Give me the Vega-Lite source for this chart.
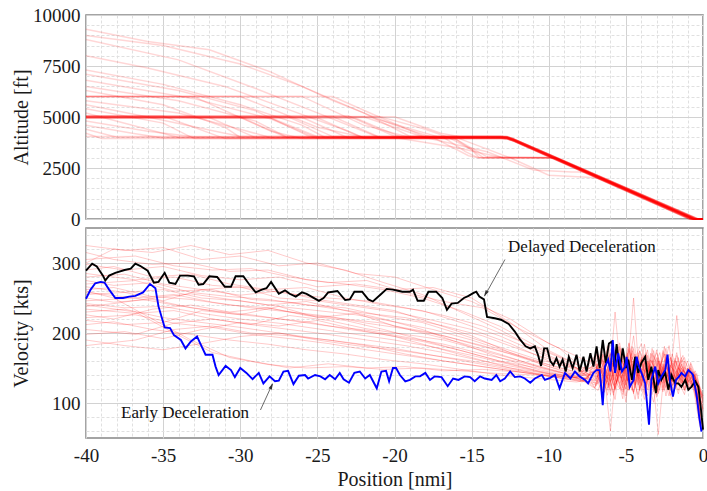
{
"$schema": "https://vega.github.io/schema/vega-lite/v6.json",
"padding": {"left": 10, "top": 5, "right": 4, "bottom": 2},
"spacing": 9,
"bounds": "flush",
"config": {
  "font": "Times New Roman",
  "view": {"stroke": "#868686", "strokeWidth": 1.5},
  "axis": {"labelFont": "Times New Roman", "titleFont": "Times New Roman", "labelFontSize": 19, "titleFontSize": 20, "titleFontWeight": "normal", "labelColor": "#1a1a1a", "titleColor": "#1a1a1a", "ticks": false, "domain": false, "labelOverlap": false, "gridWidth": 1},
  "axisY": {"labelPadding": 6, "titlePadding": 1, "minExtent": 54, "maxExtent": 54},
  "axisX": {"labelPadding": 8, "titlePadding": 4, "labelFlush": false}
},
"datasets": {
"alt": [
{"t":1,"x":-40,"a":5000},{"t":1,"x":-30,"a":5000},{"t":1,"x":-27,"a":4000},{"t":1,"x":-13.1,"a":4000},{"t":1,"x":-12.7,"a":3980},{"t":1,"x":-12.3,"a":3880},{"t":1,"x":-0.6,"a":0},{"t":1,"x":0,"a":0},
{"t":2,"x":-40,"a":5040},{"t":2,"x":-27,"a":5040},{"t":2,"x":-24,"a":4040},{"t":2,"x":-13.1,"a":4040},{"t":2,"x":-12.7,"a":4020},{"t":2,"x":-12.3,"a":3920},{"t":2,"x":-0.4,"a":0},{"t":2,"x":0,"a":0},
{"t":3,"x":-40,"a":4960},{"t":3,"x":-25,"a":4960},{"t":3,"x":-22,"a":3960},{"t":3,"x":-13.1,"a":3960},{"t":3,"x":-12.7,"a":3940},{"t":3,"x":-12.3,"a":3840},{"t":3,"x":-0.8,"a":0},{"t":3,"x":0,"a":0},
{"t":4,"x":-40,"a":5020},{"t":4,"x":-24,"a":5020},{"t":4,"x":-21,"a":4020},{"t":4,"x":-13.1,"a":4020},{"t":4,"x":-12.7,"a":4000},{"t":4,"x":-12.3,"a":3900},{"t":4,"x":-0.5,"a":0},{"t":4,"x":0,"a":0},
{"t":5,"x":-40,"a":5060},{"t":5,"x":-23,"a":5060},{"t":5,"x":-20,"a":4060},{"t":5,"x":-13.1,"a":4060},{"t":5,"x":-12.7,"a":4040},{"t":5,"x":-12.3,"a":3940},{"t":5,"x":-0.3,"a":0},{"t":5,"x":0,"a":0},
{"t":6,"x":-40,"a":4940},{"t":6,"x":-22.5,"a":4940},{"t":6,"x":-19.5,"a":3990},{"t":6,"x":-16.8,"a":3990},{"t":6,"x":-15.4,"a":3300},{"t":6,"x":-14.6,"a":3010},{"t":6,"x":-9.6,"a":3010},{"t":6,"x":-0.6,"a":0},{"t":6,"x":0,"a":0},
{"t":7,"x":-40,"a":5010},{"t":7,"x":-22,"a":5010},{"t":7,"x":-18,"a":3980},{"t":7,"x":-13.1,"a":3980},{"t":7,"x":-12.7,"a":3960},{"t":7,"x":-12.3,"a":3860},{"t":7,"x":-0.7,"a":0},{"t":7,"x":0,"a":0},
{"t":8,"x":-40,"a":4980},{"t":8,"x":-21.5,"a":4980},{"t":8,"x":-17,"a":3990},{"t":8,"x":-16.2,"a":3990},{"t":8,"x":-14.8,"a":3300},{"t":8,"x":-14.2,"a":2990},{"t":8,"x":-9.7,"a":2990},{"t":8,"x":-0.7,"a":0},{"t":8,"x":0,"a":0},
{"t":9,"x":-40,"a":5050},{"t":9,"x":-35,"a":5050},{"t":9,"x":-31,"a":3940},{"t":9,"x":-13.1,"a":3940},{"t":9,"x":-12.7,"a":3920},{"t":9,"x":-12.3,"a":3820},{"t":9,"x":-0.9,"a":0},{"t":9,"x":0,"a":0},
{"t":10,"x":-40,"a":4950},{"t":10,"x":-28,"a":4950},{"t":10,"x":-25,"a":4030},{"t":10,"x":-13.1,"a":4030},{"t":10,"x":-12.7,"a":4010},{"t":10,"x":-12.3,"a":3910},{"t":10,"x":-0.45,"a":0},{"t":10,"x":0,"a":0},
{"t":11,"x":-40,"a":4990},{"t":11,"x":-26,"a":4990},{"t":11,"x":-23,"a":3970},{"t":11,"x":-13.1,"a":3970},{"t":11,"x":-12.7,"a":3950},{"t":11,"x":-12.3,"a":3850},{"t":11,"x":-0.75,"a":0},{"t":11,"x":0,"a":0},
{"t":12,"x":-40,"a":5030},{"t":12,"x":-21,"a":5030},{"t":12,"x":-18,"a":4400},{"t":12,"x":-16.5,"a":4000},{"t":12,"x":-15,"a":3400},{"t":12,"x":-14.5,"a":3000},{"t":12,"x":-9.6,"a":3000},{"t":12,"x":-0.5,"a":0},{"t":12,"x":0,"a":0},
{"t":13,"x":-40,"a":6000},{"t":13,"x":-30,"a":6000},{"t":13,"x":-25,"a":4500},{"t":13,"x":-22,"a":4010},{"t":13,"x":-13.1,"a":4010},{"t":13,"x":-12.7,"a":3990},{"t":13,"x":-12.3,"a":3890},{"t":13,"x":-0.55,"a":0},{"t":13,"x":0,"a":0},
{"t":14,"x":-40,"a":6010},{"t":14,"x":-26,"a":6010},{"t":14,"x":-22,"a":4600},{"t":14,"x":-19,"a":4000},{"t":14,"x":-17.5,"a":4000},{"t":14,"x":-15.2,"a":3100},{"t":14,"x":-14.6,"a":3000},{"t":14,"x":-9.6,"a":3000},{"t":14,"x":-0.6,"a":0},{"t":14,"x":0,"a":0},
{"t":15,"x":-40,"a":5990},{"t":15,"x":-33,"a":5990},{"t":15,"x":-28,"a":4300},{"t":15,"x":-26,"a":3950},{"t":15,"x":-13.1,"a":3950},{"t":15,"x":-12.7,"a":3930},{"t":15,"x":-12.3,"a":3830},{"t":15,"x":-0.85,"a":0},{"t":15,"x":0,"a":0},
{"t":16,"x":-40,"a":9300},{"t":16,"x":-36,"a":8700},{"t":16,"x":-32,"a":8300},{"t":16,"x":-28,"a":7200},{"t":16,"x":-24,"a":5800},{"t":16,"x":-20,"a":4600},{"t":16,"x":-17.5,"a":4000},{"t":16,"x":-16,"a":3900},{"t":16,"x":-14,"a":3050},{"t":16,"x":-9.6,"a":3000},{"t":16,"x":-0.6,"a":0},{"t":16,"x":0,"a":0},
{"t":17,"x":-40,"a":9000},{"t":17,"x":-35,"a":8500},{"t":17,"x":-30,"a":7600},{"t":17,"x":-26,"a":6500},{"t":17,"x":-22,"a":5200},{"t":17,"x":-19,"a":4050},{"t":17,"x":-13.1,"a":4050},{"t":17,"x":-12.7,"a":4030},{"t":17,"x":-12.3,"a":3930},{"t":17,"x":-0.35,"a":0},{"t":17,"x":0,"a":0},
{"t":18,"x":-40,"a":8800},{"t":18,"x":-34,"a":7800},{"t":18,"x":-29,"a":6400},{"t":18,"x":-25,"a":5200},{"t":18,"x":-21,"a":4000},{"t":18,"x":-16,"a":4000},{"t":18,"x":-12.5,"a":3000},{"t":18,"x":-10,"a":2150},{"t":18,"x":-7.5,"a":2050},{"t":18,"x":-6.8,"a":2000},{"t":18,"x":-0.6,"a":0},{"t":18,"x":0,"a":0},
{"t":19,"x":-40,"a":8000},{"t":19,"x":-36,"a":7400},{"t":19,"x":-31,"a":6500},{"t":19,"x":-27,"a":5400},{"t":19,"x":-23,"a":4300},{"t":19,"x":-22,"a":3990},{"t":19,"x":-13.1,"a":3990},{"t":19,"x":-12.7,"a":3970},{"t":19,"x":-12.3,"a":3870},{"t":19,"x":-0.65,"a":0},{"t":19,"x":0,"a":0},
{"t":20,"x":-40,"a":7300},{"t":20,"x":-35,"a":6600},{"t":20,"x":-30,"a":5600},{"t":20,"x":-26,"a":4600},{"t":20,"x":-24.5,"a":4000},{"t":20,"x":-13.1,"a":4000},{"t":20,"x":-12.7,"a":3980},{"t":20,"x":-12.3,"a":3880},{"t":20,"x":-0.6,"a":0},{"t":20,"x":0,"a":0},
{"t":21,"x":-40,"a":7100},{"t":21,"x":-34,"a":6300},{"t":21,"x":-29,"a":5300},{"t":21,"x":-25.5,"a":4040},{"t":21,"x":-13.1,"a":4040},{"t":21,"x":-12.7,"a":4020},{"t":21,"x":-12.3,"a":3920},{"t":21,"x":-0.4,"a":0},{"t":21,"x":0,"a":0},
{"t":22,"x":-40,"a":6800},{"t":22,"x":-33,"a":5900},{"t":22,"x":-28,"a":4900},{"t":22,"x":-25,"a":3960},{"t":22,"x":-13.1,"a":3960},{"t":22,"x":-12.7,"a":3940},{"t":22,"x":-12.3,"a":3840},{"t":22,"x":-0.8,"a":0},{"t":22,"x":0,"a":0},
{"t":23,"x":-40,"a":6500},{"t":23,"x":-34,"a":5800},{"t":23,"x":-29,"a":4800},{"t":23,"x":-27,"a":4020},{"t":23,"x":-13.1,"a":4020},{"t":23,"x":-12.7,"a":4000},{"t":23,"x":-12.3,"a":3900},{"t":23,"x":-0.5,"a":0},{"t":23,"x":0,"a":0},
{"t":24,"x":-40,"a":6300},{"t":24,"x":-35,"a":5600},{"t":24,"x":-31,"a":4500},{"t":24,"x":-30,"a":4000},{"t":24,"x":-20,"a":4000},{"t":24,"x":-16,"a":3500},{"t":24,"x":-13,"a":3000},{"t":24,"x":-9.6,"a":3000},{"t":24,"x":-0.6,"a":0},{"t":24,"x":0,"a":0},
{"t":25,"x":-40,"a":5800},{"t":25,"x":-34,"a":5200},{"t":25,"x":-30,"a":4400},{"t":25,"x":-28,"a":3980},{"t":25,"x":-13.1,"a":3980},{"t":25,"x":-12.7,"a":3960},{"t":25,"x":-12.3,"a":3860},{"t":25,"x":-0.7,"a":0},{"t":25,"x":0,"a":0},
{"t":26,"x":-40,"a":5600},{"t":26,"x":-36,"a":5000},{"t":26,"x":-31,"a":4200},{"t":26,"x":-30,"a":4060},{"t":26,"x":-13.1,"a":4060},{"t":26,"x":-12.7,"a":4040},{"t":26,"x":-12.3,"a":3940},{"t":26,"x":-0.3,"a":0},{"t":26,"x":0,"a":0},
{"t":27,"x":-40,"a":5400},{"t":27,"x":-35,"a":4700},{"t":27,"x":-33,"a":3940},{"t":27,"x":-13.1,"a":3940},{"t":27,"x":-12.7,"a":3920},{"t":27,"x":-12.3,"a":3820},{"t":27,"x":-0.9,"a":0},{"t":27,"x":0,"a":0},
{"t":28,"x":-40,"a":5200},{"t":28,"x":-37,"a":4600},{"t":28,"x":-34,"a":4000},{"t":28,"x":-18,"a":4000},{"t":28,"x":-14,"a":3300},{"t":28,"x":-11,"a":2400},{"t":28,"x":-8.5,"a":2300},{"t":28,"x":-7.6,"a":2300},{"t":28,"x":-0.6,"a":0},{"t":28,"x":0,"a":0},
{"t":29,"x":-40,"a":4800},{"t":29,"x":-36,"a":4300},{"t":29,"x":-33,"a":4030},{"t":29,"x":-13.1,"a":4030},{"t":29,"x":-12.7,"a":4010},{"t":29,"x":-12.3,"a":3910},{"t":29,"x":-0.45,"a":0},{"t":29,"x":0,"a":0},
{"t":30,"x":-40,"a":4600},{"t":30,"x":-37,"a":4200},{"t":30,"x":-35,"a":3970},{"t":30,"x":-13.1,"a":3970},{"t":30,"x":-12.7,"a":3950},{"t":30,"x":-12.3,"a":3850},{"t":30,"x":-0.75,"a":0},{"t":30,"x":0,"a":0},
{"t":31,"x":-40,"a":4400},{"t":31,"x":-38,"a":4010},{"t":31,"x":-13.1,"a":4010},{"t":31,"x":-12.7,"a":3990},{"t":31,"x":-12.3,"a":3890},{"t":31,"x":-0.55,"a":0},{"t":31,"x":0,"a":0},
{"t":32,"x":-40,"a":4200},{"t":32,"x":-39,"a":3950},{"t":32,"x":-13.1,"a":3950},{"t":32,"x":-12.7,"a":3930},{"t":32,"x":-12.3,"a":3830},{"t":32,"x":-0.85,"a":0},{"t":32,"x":0,"a":0},
{"t":33,"x":-40,"a":4050},{"t":33,"x":-13.1,"a":4050},{"t":33,"x":-12.7,"a":4030},{"t":33,"x":-12.3,"a":3930},{"t":33,"x":-0.35,"a":0},{"t":33,"x":0,"a":0},
{"t":34,"x":-40,"a":4970},{"t":34,"x":-32,"a":4970},{"t":34,"x":-29,"a":3990},{"t":34,"x":-13.1,"a":3990},{"t":34,"x":-12.7,"a":3970},{"t":34,"x":-12.3,"a":3870},{"t":34,"x":-0.65,"a":0},{"t":34,"x":0,"a":0},
{"t":35,"x":-40,"a":5010},{"t":35,"x":-20,"a":5010},{"t":35,"x":-17,"a":4200},{"t":35,"x":-15.5,"a":4000},{"t":35,"x":-13.1,"a":4000},{"t":35,"x":-12.7,"a":3980},{"t":35,"x":-12.3,"a":3880},{"t":35,"x":-0.6,"a":0},{"t":35,"x":0,"a":0},
{"t":36,"x":-40,"a":6020},{"t":36,"x":-24,"a":6000},{"t":36,"x":-21,"a":5000},{"t":36,"x":-18,"a":4020},{"t":36,"x":-13.1,"a":4020},{"t":36,"x":-12.7,"a":4000},{"t":36,"x":-12.3,"a":3900},{"t":36,"x":-0.5,"a":0},{"t":36,"x":0,"a":0}
],
"vel": [
{"t":1,"x":-40,"v":325},{"t":1,"x":-37.5,"v":318},{"t":1,"x":-35,"v":322},{"t":1,"x":-32.5,"v":305},{"t":1,"x":-30,"v":310},{"t":1,"x":-27.5,"v":296},{"t":1,"x":-25,"v":300},{"t":1,"x":-22.5,"v":285},{"t":1,"x":-20,"v":280},{"t":1,"x":-17.5,"v":262},{"t":1,"x":-15,"v":245},{"t":1,"x":-12.5,"v":220},{"t":1,"x":-10,"v":185},{"t":1,"x":-7.5,"v":160},
{"t":1,"x":-7,"v":160},{"t":1,"x":-6.6,"v":122},{"t":1,"x":-6.2,"v":176},{"t":1,"x":-5.8,"v":133},{"t":1,"x":-5.4,"v":181},{"t":1,"x":-5,"v":119},{"t":1,"x":-4.6,"v":166},{"t":1,"x":-4.2,"v":141},{"t":1,"x":-3.8,"v":112},{"t":1,"x":-3.4,"v":171},{"t":1,"x":-3,"v":136},{"t":1,"x":-2.6,"v":152},{"t":1,"x":-2.2,"v":118},{"t":1,"x":-1.8,"v":161},{"t":1,"x":-1.4,"v":142},{"t":1,"x":-1,"v":126},{"t":1,"x":-0.6,"v":134},{"t":1,"x":-0.2,"v":96},
{"t":2,"x":-40,"v":315},{"t":2,"x":-38.2,"v":305},{"t":2,"x":-35.7,"v":298},{"t":2,"x":-33.2,"v":300},{"t":2,"x":-30.7,"v":288},{"t":2,"x":-28.2,"v":290},{"t":2,"x":-25.7,"v":276},{"t":2,"x":-23.2,"v":270},{"t":2,"x":-20.7,"v":262},{"t":2,"x":-18.2,"v":250},{"t":2,"x":-15.7,"v":232},{"t":2,"x":-13.2,"v":210},{"t":2,"x":-10.7,"v":180},{"t":2,"x":-8.2,"v":155},
{"t":2,"x":-6.9,"v":131},{"t":2,"x":-6.5,"v":168},{"t":2,"x":-6.1,"v":126},{"t":2,"x":-5.7,"v":230},{"t":2,"x":-5.3,"v":136},{"t":2,"x":-4.9,"v":158},{"t":2,"x":-4.5,"v":113},{"t":2,"x":-4.1,"v":174},{"t":2,"x":-3.7,"v":151},{"t":2,"x":-3.3,"v":121},{"t":2,"x":-2.9,"v":161},{"t":2,"x":-2.5,"v":129},{"t":2,"x":-2.1,"v":154},{"t":2,"x":-1.7,"v":131},{"t":2,"x":-1.3,"v":147},{"t":2,"x":-0.9,"v":137},{"t":2,"x":-0.5,"v":121},{"t":2,"x":-0.1,"v":82},
{"t":3,"x":-40,"v":305},{"t":3,"x":-36.8,"v":310},{"t":3,"x":-34.3,"v":296},{"t":3,"x":-31.8,"v":290},{"t":3,"x":-29.3,"v":292},{"t":3,"x":-26.8,"v":280},{"t":3,"x":-24.3,"v":272},{"t":3,"x":-21.8,"v":275},{"t":3,"x":-19.3,"v":258},{"t":3,"x":-16.8,"v":245},{"t":3,"x":-14.3,"v":236},{"t":3,"x":-11.8,"v":205},{"t":3,"x":-9.3,"v":178},{"t":3,"x":-7.8,"v":150},
{"t":3,"x":-6.8,"v":150},{"t":3,"x":-6.4,"v":116},{"t":3,"x":-6,"v":164},{"t":3,"x":-5.6,"v":141},{"t":3,"x":-5.2,"v":106},{"t":3,"x":-4.8,"v":178},{"t":3,"x":-4.4,"v":131},{"t":3,"x":-4,"v":166},{"t":3,"x":-3.6,"v":119},{"t":3,"x":-3.2,"v":150},{"t":3,"x":-2.8,"v":126},{"t":3,"x":-2.4,"v":170},{"t":3,"x":-2,"v":141},{"t":3,"x":-1.6,"v":113},{"t":3,"x":-1.2,"v":151},{"t":3,"x":-0.8,"v":143},{"t":3,"x":-0.4,"v":128},{"t":3,"x":0,"v":110},
{"t":4,"x":-40,"v":298},{"t":4,"x":-37.5,"v":290},{"t":4,"x":-35,"v":295},{"t":4,"x":-32.5,"v":282},{"t":4,"x":-30,"v":276},{"t":4,"x":-27.5,"v":280},{"t":4,"x":-25,"v":266},{"t":4,"x":-22.5,"v":270},{"t":4,"x":-20,"v":262},{"t":4,"x":-17.5,"v":265},{"t":4,"x":-15,"v":250},{"t":4,"x":-12.5,"v":215},{"t":4,"x":-10,"v":175},{"t":4,"x":-7.5,"v":148},
{"t":4,"x":-7,"v":141},{"t":4,"x":-6.6,"v":174},{"t":4,"x":-6.2,"v":121},{"t":4,"x":-5.8,"v":160},{"t":4,"x":-5.4,"v":151},{"t":4,"x":-5,"v":101},{"t":4,"x":-4.6,"v":171},{"t":4,"x":-4.2,"v":126},{"t":4,"x":-3.8,"v":184},{"t":4,"x":-3.4,"v":136},{"t":4,"x":-3,"v":111},{"t":4,"x":-2.6,"v":156},{"t":4,"x":-2.2,"v":131},{"t":4,"x":-1.8,"v":164},{"t":4,"x":-1.4,"v":121},{"t":4,"x":-1,"v":150},{"t":4,"x":-0.6,"v":131},{"t":4,"x":-0.2,"v":72},
{"t":5,"x":-40,"v":290},{"t":5,"x":-38.2,"v":295},{"t":5,"x":-35.7,"v":280},{"t":5,"x":-33.2,"v":284},{"t":5,"x":-30.7,"v":270},{"t":5,"x":-28.2,"v":262},{"t":5,"x":-25.7,"v":265},{"t":5,"x":-23.2,"v":250},{"t":5,"x":-20.7,"v":240},{"t":5,"x":-18.2,"v":232},{"t":5,"x":-15.7,"v":215},{"t":5,"x":-13.2,"v":196},{"t":5,"x":-10.7,"v":172},{"t":5,"x":-8.2,"v":150},
{"t":5,"x":-6.9,"v":126},{"t":5,"x":-6.5,"v":156},{"t":5,"x":-6.1,"v":181},{"t":5,"x":-5.7,"v":119},{"t":5,"x":-5.3,"v":163},{"t":5,"x":-4.9,"v":141},{"t":5,"x":-4.5,"v":196},{"t":5,"x":-4.1,"v":121},{"t":5,"x":-3.7,"v":146},{"t":5,"x":-3.3,"v":171},{"t":5,"x":-2.9,"v":113},{"t":5,"x":-2.5,"v":151},{"t":5,"x":-2.1,"v":165},{"t":5,"x":-1.7,"v":126},{"t":5,"x":-1.3,"v":146},{"t":5,"x":-0.9,"v":131},{"t":5,"x":-0.5,"v":119},{"t":5,"x":-0.1,"v":101},
{"t":6,"x":-40,"v":285},{"t":6,"x":-36.8,"v":276},{"t":6,"x":-34.3,"v":280},{"t":6,"x":-31.8,"v":268},{"t":6,"x":-29.3,"v":264},{"t":6,"x":-26.8,"v":256},{"t":6,"x":-24.3,"v":250},{"t":6,"x":-21.8,"v":246},{"t":6,"x":-19.3,"v":236},{"t":6,"x":-16.8,"v":225},{"t":6,"x":-14.3,"v":210},{"t":6,"x":-11.8,"v":188},{"t":6,"x":-9.3,"v":165},{"t":6,"x":-7.8,"v":145},
{"t":6,"x":-6.8,"v":166},{"t":6,"x":-6.4,"v":131},{"t":6,"x":-6,"v":146},{"t":6,"x":-5.6,"v":176},{"t":6,"x":-5.2,"v":116},{"t":6,"x":-4.8,"v":151},{"t":6,"x":-4.4,"v":126},{"t":6,"x":-4,"v":161},{"t":6,"x":-3.6,"v":131},{"t":6,"x":-3.2,"v":101},{"t":6,"x":-2.8,"v":156},{"t":6,"x":-2.4,"v":141},{"t":6,"x":-2,"v":121},{"t":6,"x":-1.6,"v":151},{"t":6,"x":-1.2,"v":136},{"t":6,"x":-0.8,"v":146},{"t":6,"x":-0.4,"v":126},{"t":6,"x":0,"v":91},
{"t":7,"x":-40,"v":280},{"t":7,"x":-37.5,"v":284},{"t":7,"x":-35,"v":270},{"t":7,"x":-32.5,"v":262},{"t":7,"x":-30,"v":266},{"t":7,"x":-27.5,"v":250},{"t":7,"x":-25,"v":246},{"t":7,"x":-22.5,"v":238},{"t":7,"x":-20,"v":230},{"t":7,"x":-17.5,"v":218},{"t":7,"x":-15,"v":205},{"t":7,"x":-12.5,"v":185},{"t":7,"x":-10,"v":160},{"t":7,"x":-7.5,"v":142},
{"t":7,"x":-7,"v":146},{"t":7,"x":-6.6,"v":161},{"t":7,"x":-6.2,"v":111},{"t":7,"x":-5.8,"v":151},{"t":7,"x":-5.4,"v":186},{"t":7,"x":-5,"v":131},{"t":7,"x":-4.6,"v":156},{"t":7,"x":-4.2,"v":106},{"t":7,"x":-3.8,"v":166},{"t":7,"x":-3.4,"v":141},{"t":7,"x":-3,"v":176},{"t":7,"x":-2.6,"v":119},{"t":7,"x":-2.2,"v":146},{"t":7,"x":-1.8,"v":136},{"t":7,"x":-1.4,"v":161},{"t":7,"x":-1,"v":129},{"t":7,"x":-0.6,"v":141},{"t":7,"x":-0.2,"v":121},
{"t":8,"x":-40,"v":275},{"t":8,"x":-38.2,"v":268},{"t":8,"x":-35.7,"v":272},{"t":8,"x":-33.2,"v":258},{"t":8,"x":-30.7,"v":252},{"t":8,"x":-28.2,"v":248},{"t":8,"x":-25.7,"v":240},{"t":8,"x":-23.2,"v":236},{"t":8,"x":-20.7,"v":224},{"t":8,"x":-18.2,"v":215},{"t":8,"x":-15.7,"v":198},{"t":8,"x":-13.2,"v":180},{"t":8,"x":-10.7,"v":162},{"t":8,"x":-8.2,"v":150},
{"t":8,"x":-6.9,"v":136},{"t":8,"x":-6.5,"v":111},{"t":8,"x":-6.1,"v":161},{"t":8,"x":-5.7,"v":126},{"t":8,"x":-5.3,"v":146},{"t":8,"x":-4.9,"v":171},{"t":8,"x":-4.5,"v":116},{"t":8,"x":-4.1,"v":151},{"t":8,"x":-3.7,"v":136},{"t":8,"x":-3.3,"v":161},{"t":8,"x":-2.9,"v":126},{"t":8,"x":-2.5,"v":181},{"t":8,"x":-2.1,"v":111},{"t":8,"x":-1.7,"v":146},{"t":8,"x":-1.3,"v":129},{"t":8,"x":-0.9,"v":141},{"t":8,"x":-0.5,"v":116},{"t":8,"x":-0.1,"v":62},
{"t":9,"x":-40,"v":270},{"t":9,"x":-36.8,"v":275},{"t":9,"x":-34.3,"v":260},{"t":9,"x":-31.8,"v":262},{"t":9,"x":-29.3,"v":248},{"t":9,"x":-26.8,"v":244},{"t":9,"x":-24.3,"v":236},{"t":9,"x":-21.8,"v":228},{"t":9,"x":-19.3,"v":222},{"t":9,"x":-16.8,"v":210},{"t":9,"x":-14.3,"v":196},{"t":9,"x":-11.8,"v":176},{"t":9,"x":-9.3,"v":158},{"t":9,"x":-7.8,"v":145},
{"t":9,"x":-6.8,"v":156},{"t":9,"x":-6.4,"v":141},{"t":9,"x":-6,"v":131},{"t":9,"x":-5.6,"v":171},{"t":9,"x":-5.2,"v":121},{"t":9,"x":-4.8,"v":186},{"t":9,"x":-4.4,"v":146},{"t":9,"x":-4,"v":136},{"t":9,"x":-3.6,"v":176},{"t":9,"x":-3.2,"v":116},{"t":9,"x":-2.8,"v":151},{"t":9,"x":-2.4,"v":131},{"t":9,"x":-2,"v":161},{"t":9,"x":-1.6,"v":141},{"t":9,"x":-1.2,"v":119},{"t":9,"x":-0.8,"v":149},{"t":9,"x":-0.4,"v":133},{"t":9,"x":0,"v":106},
{"t":10,"x":-40,"v":266},{"t":10,"x":-37.5,"v":258},{"t":10,"x":-35,"v":262},{"t":10,"x":-32.5,"v":250},{"t":10,"x":-30,"v":246},{"t":10,"x":-27.5,"v":238},{"t":10,"x":-25,"v":232},{"t":10,"x":-22.5,"v":226},{"t":10,"x":-20,"v":216},{"t":10,"x":-17.5,"v":205},{"t":10,"x":-15,"v":190},{"t":10,"x":-12.5,"v":172},{"t":10,"x":-10,"v":155},{"t":10,"x":-7.5,"v":140},
{"t":10,"x":-7,"v":121},{"t":10,"x":-6.6,"v":166},{"t":10,"x":-6.2,"v":141},{"t":10,"x":-5.8,"v":111},{"t":10,"x":-5.4,"v":161},{"t":10,"x":-5,"v":126},{"t":10,"x":-4.6,"v":181},{"t":10,"x":-4.2,"v":141},{"t":10,"x":-3.8,"v":121},{"t":10,"x":-3.4,"v":161},{"t":10,"x":-3,"v":146},{"t":10,"x":-2.6,"v":116},{"t":10,"x":-2.2,"v":151},{"t":10,"x":-1.8,"v":126},{"t":10,"x":-1.4,"v":156},{"t":10,"x":-1,"v":133},{"t":10,"x":-0.6,"v":123},{"t":10,"x":-0.2,"v":86},
{"t":11,"x":-40,"v":262},{"t":11,"x":-38.2,"v":265},{"t":11,"x":-35.7,"v":252},{"t":11,"x":-33.2,"v":248},{"t":11,"x":-30.7,"v":240},{"t":11,"x":-28.2,"v":236},{"t":11,"x":-25.7,"v":226},{"t":11,"x":-23.2,"v":220},{"t":11,"x":-20.7,"v":214},{"t":11,"x":-18.2,"v":200},{"t":11,"x":-15.7,"v":186},{"t":11,"x":-13.2,"v":170},{"t":11,"x":-10.7,"v":152},{"t":11,"x":-8.2,"v":138},
{"t":11,"x":-6.9,"v":170},{"t":11,"x":-6.5,"v":135},{"t":11,"x":-6.1,"v":155},{"t":11,"x":-5.7,"v":118},{"t":11,"x":-5.3,"v":178},{"t":11,"x":-4.9,"v":145},{"t":11,"x":-4.5,"v":250},{"t":11,"x":-4.1,"v":128},{"t":11,"x":-3.7,"v":160},{"t":11,"x":-3.3,"v":138},{"t":11,"x":-2.9,"v":115},{"t":11,"x":-2.5,"v":162},{"t":11,"x":-2.1,"v":140},{"t":11,"x":-1.7,"v":172},{"t":11,"x":-1.3,"v":125},{"t":11,"x":-0.9,"v":148},{"t":11,"x":-0.5,"v":138},{"t":11,"x":-0.1,"v":112},
{"t":12,"x":-40,"v":258},{"t":12,"x":-36.8,"v":250},{"t":12,"x":-34.3,"v":255},{"t":12,"x":-31.8,"v":244},{"t":12,"x":-29.3,"v":236},{"t":12,"x":-26.8,"v":230},{"t":12,"x":-24.3,"v":224},{"t":12,"x":-21.8,"v":214},{"t":12,"x":-19.3,"v":206},{"t":12,"x":-16.8,"v":196},{"t":12,"x":-14.3,"v":182},{"t":12,"x":-11.8,"v":166},{"t":12,"x":-9.3,"v":150},{"t":12,"x":-7.8,"v":142},
{"t":12,"x":-6.8,"v":138},{"t":12,"x":-6.4,"v":160},{"t":12,"x":-6,"v":112},{"t":12,"x":-5.6,"v":172},{"t":12,"x":-5.2,"v":140},{"t":12,"x":-4.8,"v":118},{"t":12,"x":-4.4,"v":165},{"t":12,"x":-4,"v":185},{"t":12,"x":-3.6,"v":132},{"t":12,"x":-3.2,"v":150},{"t":12,"x":-2.8,"v":172},{"t":12,"x":-2.4,"v":128},{"t":12,"x":-2,"v":105},{"t":12,"x":-1.6,"v":152},{"t":12,"x":-1.2,"v":165},{"t":12,"x":-0.8,"v":130},{"t":12,"x":-0.4,"v":142},{"t":12,"x":0,"v":98},
{"t":13,"x":-40,"v":255},{"t":13,"x":-37.5,"v":258},{"t":13,"x":-35,"v":246},{"t":13,"x":-32.5,"v":262},{"t":13,"x":-30,"v":254},{"t":13,"x":-27.5,"v":260},{"t":13,"x":-25,"v":248},{"t":13,"x":-22.5,"v":240},{"t":13,"x":-20,"v":232},{"t":13,"x":-17.5,"v":214},{"t":13,"x":-15,"v":196},{"t":13,"x":-12.5,"v":172},{"t":13,"x":-10,"v":152},{"t":13,"x":-7.5,"v":138},
{"t":13,"x":-7,"v":148},{"t":13,"x":-6.6,"v":125},{"t":13,"x":-6.2,"v":182},{"t":13,"x":-5.8,"v":138},{"t":13,"x":-5.4,"v":120},{"t":13,"x":-5,"v":160},{"t":13,"x":-4.6,"v":135},{"t":13,"x":-4.2,"v":112},{"t":13,"x":-3.8,"v":168},{"t":13,"x":-3.4,"v":145},{"t":13,"x":-3,"v":125},{"t":13,"x":-2.6,"v":175},{"t":13,"x":-2.2,"v":150},{"t":13,"x":-1.8,"v":120},{"t":13,"x":-1.4,"v":138},{"t":13,"x":-1,"v":160},{"t":13,"x":-0.6,"v":128},{"t":13,"x":-0.2,"v":75},
{"t":14,"x":-40,"v":250},{"t":14,"x":-38.2,"v":244},{"t":14,"x":-35.7,"v":248},{"t":14,"x":-33.2,"v":236},{"t":14,"x":-30.7,"v":228},{"t":14,"x":-28.2,"v":222},{"t":14,"x":-25.7,"v":216},{"t":14,"x":-23.2,"v":206},{"t":14,"x":-20.7,"v":198},{"t":14,"x":-18.2,"v":188},{"t":14,"x":-15.7,"v":175},{"t":14,"x":-13.2,"v":160},{"t":14,"x":-10.7,"v":146},{"t":14,"x":-8.2,"v":136},
{"t":14,"x":-6.9,"v":125},{"t":14,"x":-6.5,"v":150},{"t":14,"x":-6.1,"v":140},{"t":14,"x":-5.7,"v":105},{"t":14,"x":-5.3,"v":170},{"t":14,"x":-4.9,"v":132},{"t":14,"x":-4.5,"v":158},{"t":14,"x":-4.1,"v":145},{"t":14,"x":-3.7,"v":120},{"t":14,"x":-3.3,"v":178},{"t":14,"x":-2.9,"v":130},{"t":14,"x":-2.5,"v":155},{"t":14,"x":-2.1,"v":125},{"t":14,"x":-1.7,"v":148},{"t":14,"x":-1.3,"v":168},{"t":14,"x":-0.9,"v":122},{"t":14,"x":-0.5,"v":136},{"t":14,"x":-0.1,"v":108},
{"t":15,"x":-40,"v":246},{"t":15,"x":-36.8,"v":250},{"t":15,"x":-34.3,"v":240},{"t":15,"x":-31.8,"v":232},{"t":15,"x":-29.3,"v":226},{"t":15,"x":-26.8,"v":218},{"t":15,"x":-24.3,"v":210},{"t":15,"x":-21.8,"v":204},{"t":15,"x":-19.3,"v":194},{"t":15,"x":-16.8,"v":184},{"t":15,"x":-14.3,"v":170},{"t":15,"x":-11.8,"v":158},{"t":15,"x":-9.3,"v":144},{"t":15,"x":-7.8,"v":140},
{"t":15,"x":-6.8,"v":162},{"t":15,"x":-6.4,"v":140},{"t":15,"x":-6,"v":60},{"t":15,"x":-5.6,"v":158},{"t":15,"x":-5.2,"v":130},{"t":15,"x":-4.8,"v":175},{"t":15,"x":-4.4,"v":122},{"t":15,"x":-4,"v":162},{"t":15,"x":-3.6,"v":142},{"t":15,"x":-3.2,"v":125},{"t":15,"x":-2.8,"v":160},{"t":15,"x":-2.4,"v":110},{"t":15,"x":-2,"v":170},{"t":15,"x":-1.6,"v":138},{"t":15,"x":-1.2,"v":128},{"t":15,"x":-0.8,"v":152},{"t":15,"x":-0.4,"v":130},{"t":15,"x":0,"v":92},
{"t":16,"x":-40,"v":242},{"t":16,"x":-37.5,"v":236},{"t":16,"x":-35,"v":238},{"t":16,"x":-32.5,"v":228},{"t":16,"x":-30,"v":220},{"t":16,"x":-27.5,"v":214},{"t":16,"x":-25,"v":206},{"t":16,"x":-22.5,"v":198},{"t":16,"x":-20,"v":190},{"t":16,"x":-17.5,"v":180},{"t":16,"x":-15,"v":168},{"t":16,"x":-12.5,"v":155},{"t":16,"x":-10,"v":142},{"t":16,"x":-7.5,"v":134},
{"t":16,"x":-7,"v":132},{"t":16,"x":-6.6,"v":178},{"t":16,"x":-6.2,"v":150},{"t":16,"x":-5.8,"v":125},{"t":16,"x":-5.4,"v":158},{"t":16,"x":-5,"v":110},{"t":16,"x":-4.6,"v":148},{"t":16,"x":-4.2,"v":172},{"t":16,"x":-3.8,"v":130},{"t":16,"x":-3.4,"v":155},{"t":16,"x":-3,"v":118},{"t":16,"x":-2.6,"v":145},{"t":16,"x":-2.2,"v":182},{"t":16,"x":-1.8,"v":122},{"t":16,"x":-1.4,"v":150},{"t":16,"x":-1,"v":138},{"t":16,"x":-0.6,"v":118},{"t":16,"x":-0.2,"v":66},
{"t":17,"x":-40,"v":238},{"t":17,"x":-38.2,"v":242},{"t":17,"x":-35.7,"v":250},{"t":17,"x":-33.2,"v":256},{"t":17,"x":-30.7,"v":248},{"t":17,"x":-28.2,"v":240},{"t":17,"x":-25.7,"v":245},{"t":17,"x":-23.2,"v":232},{"t":17,"x":-20.7,"v":220},{"t":17,"x":-18.2,"v":205},{"t":17,"x":-15.7,"v":185},{"t":17,"x":-13.2,"v":165},{"t":17,"x":-10.7,"v":148},{"t":17,"x":-8.2,"v":136},
{"t":17,"x":-6.9,"v":152},{"t":17,"x":-6.5,"v":118},{"t":17,"x":-6.1,"v":138},{"t":17,"x":-5.7,"v":168},{"t":17,"x":-5.3,"v":125},{"t":17,"x":-4.9,"v":150},{"t":17,"x":-4.5,"v":178},{"t":17,"x":-4.1,"v":118},{"t":17,"x":-3.7,"v":155},{"t":17,"x":-3.3,"v":132},{"t":17,"x":-2.9,"v":165},{"t":17,"x":-2.5,"v":140},{"t":17,"x":-2.1,"v":118},{"t":17,"x":-1.7,"v":160},{"t":17,"x":-1.3,"v":135},{"t":17,"x":-0.9,"v":125},{"t":17,"x":-0.5,"v":146},{"t":17,"x":-0.1,"v":115},
{"t":18,"x":-40,"v":234},{"t":18,"x":-36.8,"v":228},{"t":18,"x":-34.3,"v":232},{"t":18,"x":-31.8,"v":220},{"t":18,"x":-29.3,"v":212},{"t":18,"x":-26.8,"v":205},{"t":18,"x":-24.3,"v":198},{"t":18,"x":-21.8,"v":190},{"t":18,"x":-19.3,"v":182},{"t":18,"x":-16.8,"v":172},{"t":18,"x":-14.3,"v":160},{"t":18,"x":-11.8,"v":150},{"t":18,"x":-9.3,"v":138},{"t":18,"x":-7.8,"v":132},
{"t":18,"x":-6.8,"v":118},{"t":18,"x":-6.4,"v":145},{"t":18,"x":-6,"v":170},{"t":18,"x":-5.6,"v":130},{"t":18,"x":-5.2,"v":150},{"t":18,"x":-4.8,"v":185},{"t":18,"x":-4.4,"v":125},{"t":18,"x":-4,"v":140},{"t":18,"x":-3.6,"v":110},{"t":18,"x":-3.2,"v":168},{"t":18,"x":-2.8,"v":145},{"t":18,"x":-2.4,"v":122},{"t":18,"x":-2,"v":158},{"t":18,"x":-1.6,"v":132},{"t":18,"x":-1.2,"v":112},{"t":18,"x":-0.8,"v":156},{"t":18,"x":-0.4,"v":128},{"t":18,"x":0,"v":88},
{"t":19,"x":-40,"v":230},{"t":19,"x":-37.5,"v":234},{"t":19,"x":-35,"v":222},{"t":19,"x":-32.5,"v":215},{"t":19,"x":-30,"v":208},{"t":19,"x":-27.5,"v":200},{"t":19,"x":-25,"v":192},{"t":19,"x":-22.5,"v":185},{"t":19,"x":-20,"v":178},{"t":19,"x":-17.5,"v":168},{"t":19,"x":-15,"v":158},{"t":19,"x":-12.5,"v":148},{"t":19,"x":-10,"v":140},{"t":19,"x":-7.5,"v":135},
{"t":19,"x":-7,"v":165},{"t":19,"x":-6.6,"v":128},{"t":19,"x":-6.2,"v":148},{"t":19,"x":-5.8,"v":115},{"t":19,"x":-5.4,"v":178},{"t":19,"x":-5,"v":140},{"t":19,"x":-4.6,"v":118},{"t":19,"x":-4.2,"v":160},{"t":19,"x":-3.8,"v":135},{"t":19,"x":-3.4,"v":150},{"t":19,"x":-3,"v":108},{"t":19,"x":-2.6,"v":172},{"t":19,"x":-2.2,"v":142},{"t":19,"x":-1.8,"v":128},{"t":19,"x":-1.4,"v":165},{"t":19,"x":-1,"v":140},{"t":19,"x":-0.6,"v":132},{"t":19,"x":-0.2,"v":100},
{"t":20,"x":-40,"v":226},{"t":20,"x":-38.2,"v":220},{"t":20,"x":-35.7,"v":234},{"t":20,"x":-33.2,"v":240},{"t":20,"x":-30.7,"v":230},{"t":20,"x":-28.2,"v":236},{"t":20,"x":-25.7,"v":225},{"t":20,"x":-23.2,"v":218},{"t":20,"x":-20.7,"v":205},{"t":20,"x":-18.2,"v":190},{"t":20,"x":-15.7,"v":175},{"t":20,"x":-13.2,"v":160},{"t":20,"x":-10.7,"v":150},{"t":20,"x":-8.2,"v":138},
{"t":20,"x":-6.9,"v":142},{"t":20,"x":-6.5,"v":162},{"t":20,"x":-6.1,"v":122},{"t":20,"x":-5.7,"v":150},{"t":20,"x":-5.3,"v":135},{"t":20,"x":-4.9,"v":162},{"t":20,"x":-4.5,"v":140},{"t":20,"x":-4.1,"v":175},{"t":20,"x":-3.7,"v":128},{"t":20,"x":-3.3,"v":145},{"t":20,"x":-2.9,"v":55},{"t":20,"x":-2.5,"v":150},{"t":20,"x":-2.1,"v":128},{"t":20,"x":-1.7,"v":168},{"t":20,"x":-1.3,"v":140},{"t":20,"x":-0.9,"v":118},{"t":20,"x":-0.5,"v":138},{"t":20,"x":-0.1,"v":78},
{"t":21,"x":-40,"v":222},{"t":21,"x":-36.8,"v":226},{"t":21,"x":-34.3,"v":214},{"t":21,"x":-31.8,"v":208},{"t":21,"x":-29.3,"v":198},{"t":21,"x":-26.8,"v":192},{"t":21,"x":-24.3,"v":185},{"t":21,"x":-21.8,"v":176},{"t":21,"x":-19.3,"v":168},{"t":21,"x":-16.8,"v":160},{"t":21,"x":-14.3,"v":152},{"t":21,"x":-11.8,"v":144},{"t":21,"x":-9.3,"v":136},{"t":21,"x":-7.8,"v":132},
{"t":21,"x":-6.8,"v":128},{"t":21,"x":-6.4,"v":150},{"t":21,"x":-6,"v":172},{"t":21,"x":-5.6,"v":140},{"t":21,"x":-5.2,"v":112},{"t":21,"x":-4.8,"v":155},{"t":21,"x":-4.4,"v":170},{"t":21,"x":-4,"v":132},{"t":21,"x":-3.6,"v":158},{"t":21,"x":-3.2,"v":120},{"t":21,"x":-2.8,"v":150},{"t":21,"x":-2.4,"v":178},{"t":21,"x":-2,"v":125},{"t":21,"x":-1.6,"v":142},{"t":21,"x":-1.2,"v":118},{"t":21,"x":-0.8,"v":150},{"t":21,"x":-0.4,"v":125},{"t":21,"x":0,"v":104},
{"t":22,"x":-40,"v":218},{"t":22,"x":-37.5,"v":212},{"t":22,"x":-35,"v":215},{"t":22,"x":-32.5,"v":232},{"t":22,"x":-30,"v":226},{"t":22,"x":-27.5,"v":238},{"t":22,"x":-25,"v":222},{"t":22,"x":-22.5,"v":228},{"t":22,"x":-20,"v":210},{"t":22,"x":-17.5,"v":200},{"t":22,"x":-15,"v":185},{"t":22,"x":-12.5,"v":170},{"t":22,"x":-10,"v":152},{"t":22,"x":-7.5,"v":134},
{"t":22,"x":-7,"v":158},{"t":22,"x":-6.6,"v":132},{"t":22,"x":-6.2,"v":118},{"t":22,"x":-5.8,"v":165},{"t":22,"x":-5.4,"v":145},{"t":22,"x":-5,"v":125},{"t":22,"x":-4.6,"v":160},{"t":22,"x":-4.2,"v":138},{"t":22,"x":-3.8,"v":105},{"t":22,"x":-3.4,"v":162},{"t":22,"x":-3,"v":140},{"t":22,"x":-2.6,"v":128},{"t":22,"x":-2.2,"v":170},{"t":22,"x":-1.8,"v":132},{"t":22,"x":-1.4,"v":155},{"t":22,"x":-1,"v":128},{"t":22,"x":-0.6,"v":140},{"t":22,"x":-0.2,"v":84},
{"t":23,"x":-40,"v":212},{"t":23,"x":-38.2,"v":216},{"t":23,"x":-35.7,"v":205},{"t":23,"x":-33.2,"v":198},{"t":23,"x":-30.7,"v":190},{"t":23,"x":-28.2,"v":184},{"t":23,"x":-25.7,"v":176},{"t":23,"x":-23.2,"v":170},{"t":23,"x":-20.7,"v":162},{"t":23,"x":-18.2,"v":156},{"t":23,"x":-15.7,"v":148},{"t":23,"x":-13.2,"v":140},{"t":23,"x":-10.7,"v":135},{"t":23,"x":-8.2,"v":130},
{"t":23,"x":-6.9,"v":135},{"t":23,"x":-6.5,"v":170},{"t":23,"x":-6.1,"v":145},{"t":23,"x":-5.7,"v":120},{"t":23,"x":-5.3,"v":162},{"t":23,"x":-4.9,"v":138},{"t":23,"x":-4.5,"v":115},{"t":23,"x":-4.1,"v":158},{"t":23,"x":-3.7,"v":172},{"t":23,"x":-3.3,"v":135},{"t":23,"x":-2.9,"v":160},{"t":23,"x":-2.5,"v":118},{"t":23,"x":-2.1,"v":145},{"t":23,"x":-1.7,"v":225},{"t":23,"x":-1.3,"v":130},{"t":23,"x":-0.9,"v":146},{"t":23,"x":-0.5,"v":122},{"t":23,"x":-0.1,"v":70},
{"t":24,"x":-40,"v":205},{"t":24,"x":-36.8,"v":198},{"t":24,"x":-34.3,"v":214},{"t":24,"x":-31.8,"v":220},{"t":24,"x":-29.3,"v":212},{"t":24,"x":-26.8,"v":225},{"t":24,"x":-24.3,"v":218},{"t":24,"x":-21.8,"v":206},{"t":24,"x":-19.3,"v":198},{"t":24,"x":-16.8,"v":190},{"t":24,"x":-14.3,"v":175},{"t":24,"x":-11.8,"v":160},{"t":24,"x":-9.3,"v":145},{"t":24,"x":-7.8,"v":132},
{"t":24,"x":-6.8,"v":150},{"t":24,"x":-6.4,"v":126},{"t":24,"x":-6,"v":160},{"t":24,"x":-5.6,"v":138},{"t":24,"x":-5.2,"v":175},{"t":24,"x":-4.8,"v":118},{"t":24,"x":-4.4,"v":148},{"t":24,"x":-4,"v":125},{"t":24,"x":-3.6,"v":160},{"t":24,"x":-3.2,"v":142},{"t":24,"x":-2.8,"v":118},{"t":24,"x":-2.4,"v":165},{"t":24,"x":-2,"v":132},{"t":24,"x":-1.6,"v":150},{"t":24,"x":-1.2,"v":122},{"t":24,"x":-0.8,"v":158},{"t":24,"x":-0.4,"v":135},{"t":24,"x":0,"v":110},
{"t":25,"x":-40,"v":198},{"t":25,"x":-37.5,"v":202},{"t":25,"x":-35,"v":192},{"t":25,"x":-32.5,"v":205},{"t":25,"x":-30,"v":215},{"t":25,"x":-27.5,"v":210},{"t":25,"x":-25,"v":218},{"t":25,"x":-22.5,"v":205},{"t":25,"x":-20,"v":195},{"t":25,"x":-17.5,"v":180},{"t":25,"x":-15,"v":165},{"t":25,"x":-12.5,"v":150},{"t":25,"x":-10,"v":138},{"t":25,"x":-7.5,"v":130},
{"t":25,"x":-7,"v":122},{"t":25,"x":-6.6,"v":158},{"t":25,"x":-6.2,"v":135},{"t":25,"x":-5.8,"v":180},{"t":25,"x":-5.4,"v":128},{"t":25,"x":-5,"v":152},{"t":25,"x":-4.6,"v":140},{"t":25,"x":-4.2,"v":168},{"t":25,"x":-3.8,"v":118},{"t":25,"x":-3.4,"v":150},{"t":25,"x":-3,"v":172},{"t":25,"x":-2.6,"v":138},{"t":25,"x":-2.2,"v":110},{"t":25,"x":-1.8,"v":160},{"t":25,"x":-1.4,"v":138},{"t":25,"x":-1,"v":128},{"t":25,"x":-0.6,"v":145},{"t":25,"x":-0.2,"v":95},
{"t":26,"x":-40,"v":260},{"t":26,"x":-38.2,"v":250},{"t":26,"x":-35.7,"v":220},{"t":26,"x":-33.2,"v":190},{"t":26,"x":-30.7,"v":165},{"t":26,"x":-28.2,"v":155},{"t":26,"x":-25.7,"v":150},{"t":26,"x":-23.2,"v":152},{"t":26,"x":-20.7,"v":148},{"t":26,"x":-18.2,"v":150},{"t":26,"x":-15.7,"v":146},{"t":26,"x":-13.2,"v":142},{"t":26,"x":-10.7,"v":140},{"t":26,"x":-8.2,"v":136},
{"t":26,"x":-6.9,"v":168},{"t":26,"x":-6.5,"v":140},{"t":26,"x":-6.1,"v":125},{"t":26,"x":-5.7,"v":150},{"t":26,"x":-5.3,"v":118},{"t":26,"x":-4.9,"v":168},{"t":26,"x":-4.5,"v":130},{"t":26,"x":-4.1,"v":150},{"t":26,"x":-3.7,"v":145},{"t":26,"x":-3.3,"v":112},{"t":26,"x":-2.9,"v":158},{"t":26,"x":-2.5,"v":132},{"t":26,"x":-2.1,"v":165},{"t":26,"x":-1.7,"v":125},{"t":26,"x":-1.3,"v":148},{"t":26,"x":-0.9,"v":135},{"t":26,"x":-0.5,"v":120},{"t":26,"x":-0.1,"v":76},
{"t":27,"x":-40,"v":240},{"t":27,"x":-36.8,"v":230},{"t":27,"x":-34.3,"v":200},{"t":27,"x":-31.8,"v":172},{"t":27,"x":-29.3,"v":160},{"t":27,"x":-26.8,"v":150},{"t":27,"x":-24.3,"v":156},{"t":27,"x":-21.8,"v":150},{"t":27,"x":-19.3,"v":152},{"t":27,"x":-16.8,"v":146},{"t":27,"x":-14.3,"v":148},{"t":27,"x":-11.8,"v":144},{"t":27,"x":-9.3,"v":138},{"t":27,"x":-7.8,"v":134},
{"t":27,"x":-6.8,"v":138},{"t":27,"x":-6.4,"v":115},{"t":27,"x":-6,"v":155},{"t":27,"x":-5.6,"v":128},{"t":27,"x":-5.2,"v":170},{"t":27,"x":-4.8,"v":142},{"t":27,"x":-4.4,"v":105},{"t":27,"x":-4,"v":162},{"t":27,"x":-3.6,"v":135},{"t":27,"x":-3.2,"v":175},{"t":27,"x":-2.8,"v":128},{"t":27,"x":-2.4,"v":150},{"t":27,"x":-2,"v":140},{"t":27,"x":-1.6,"v":118},{"t":27,"x":-1.2,"v":160},{"t":27,"x":-0.8,"v":145},{"t":27,"x":-0.4,"v":130},{"t":27,"x":0,"v":102},
{"t":28,"x":-40,"v":190},{"t":28,"x":-37.5,"v":182},{"t":28,"x":-35,"v":176},{"t":28,"x":-32.5,"v":185},{"t":28,"x":-30,"v":195},{"t":28,"x":-27.5,"v":200},{"t":28,"x":-25,"v":190},{"t":28,"x":-22.5,"v":182},{"t":28,"x":-20,"v":176},{"t":28,"x":-17.5,"v":168},{"t":28,"x":-15,"v":160},{"t":28,"x":-12.5,"v":150},{"t":28,"x":-10,"v":142},{"t":28,"x":-7.5,"v":136},
{"t":28,"x":-7,"v":145},{"t":28,"x":-6.6,"v":165},{"t":28,"x":-6.2,"v":130},{"t":28,"x":-5.8,"v":155},{"t":28,"x":-5.4,"v":140},{"t":28,"x":-5,"v":120},{"t":28,"x":-4.6,"v":175},{"t":28,"x":-4.2,"v":148},{"t":28,"x":-3.8,"v":115},{"t":28,"x":-3.4,"v":140},{"t":28,"x":-3,"v":165},{"t":28,"x":-2.6,"v":122},{"t":28,"x":-2.2,"v":155},{"t":28,"x":-1.8,"v":145},{"t":28,"x":-1.4,"v":128},{"t":28,"x":-1,"v":150},{"t":28,"x":-0.6,"v":118},{"t":28,"x":-0.2,"v":90},
{"t":29,"x":-40,"v":300},{"t":29,"x":-38.2,"v":320},{"t":29,"x":-35.7,"v":315},{"t":29,"x":-33.2,"v":325},{"t":29,"x":-30.7,"v":312},{"t":29,"x":-28.2,"v":318},{"t":29,"x":-25.7,"v":300},{"t":29,"x":-23.2,"v":290},{"t":29,"x":-20.7,"v":272},{"t":29,"x":-18.2,"v":255},{"t":29,"x":-15.7,"v":230},{"t":29,"x":-13.2,"v":205},{"t":29,"x":-10.7,"v":175},{"t":29,"x":-8.2,"v":150},
{"t":29,"x":-6.9,"v":128},{"t":29,"x":-6.5,"v":148},{"t":29,"x":-6.1,"v":168},{"t":29,"x":-5.7,"v":122},{"t":29,"x":-5.3,"v":155},{"t":29,"x":-4.9,"v":132},{"t":29,"x":-4.5,"v":160},{"t":29,"x":-4.1,"v":118},{"t":29,"x":-3.7,"v":150},{"t":29,"x":-3.3,"v":128},{"t":29,"x":-2.9,"v":145},{"t":29,"x":-2.5,"v":170},{"t":29,"x":-2.1,"v":122},{"t":29,"x":-1.7,"v":138},{"t":29,"x":-1.3,"v":152},{"t":29,"x":-0.9,"v":120},{"t":29,"x":-0.5,"v":142},{"t":29,"x":-0.1,"v":68},
{"t":30,"x":-40,"v":182},{"t":30,"x":-36.8,"v":190},{"t":30,"x":-34.3,"v":205},{"t":30,"x":-31.8,"v":210},{"t":30,"x":-29.3,"v":200},{"t":30,"x":-26.8,"v":196},{"t":30,"x":-24.3,"v":190},{"t":30,"x":-21.8,"v":182},{"t":30,"x":-19.3,"v":170},{"t":30,"x":-16.8,"v":160},{"t":30,"x":-14.3,"v":152},{"t":30,"x":-11.8,"v":144},{"t":30,"x":-9.3,"v":136},{"t":30,"x":-7.8,"v":130},
{"t":30,"x":-6.8,"v":155},{"t":30,"x":-6.4,"v":135},{"t":30,"x":-6,"v":118},{"t":30,"x":-5.6,"v":162},{"t":30,"x":-5.2,"v":145},{"t":30,"x":-4.8,"v":178},{"t":30,"x":-4.4,"v":128},{"t":30,"x":-4,"v":145},{"t":30,"x":-3.6,"v":168},{"t":30,"x":-3.2,"v":122},{"t":30,"x":-2.8,"v":138},{"t":30,"x":-2.4,"v":155},{"t":30,"x":-2,"v":130},{"t":30,"x":-1.6,"v":165},{"t":30,"x":-1.2,"v":118},{"t":30,"x":-0.8,"v":140},{"t":30,"x":-0.4,"v":126},{"t":30,"x":0,"v":108}
],
"blk": [
{"x":-40,"v":289},{"x":-39.6,"v":299},{"x":-39.3,"v":295},{"x":-38.9,"v":282},{"x":-38.75,"v":275},{"x":-38.5,"v":282},{"x":-38.1,"v":286},{"x":-37.5,"v":290},{"x":-37.1,"v":292},{"x":-36.8,"v":299},{"x":-36.5,"v":296},{"x":-36,"v":289},{"x":-35.6,"v":272},{"x":-35.3,"v":273},{"x":-34.9,"v":286},{"x":-34.6,"v":272},{"x":-34.2,"v":270},{"x":-33.9,"v":282},{"x":-33.4,"v":282},{"x":-33,"v":281},{"x":-32.7,"v":269},{"x":-32.4,"v":270},{"x":-32,"v":281},{"x":-31.5,"v":280},{"x":-31,"v":266},{"x":-30.6,"v":266},{"x":-30.3,"v":281},{"x":-29.8,"v":281},{"x":-29.4,"v":269},{"x":-29,"v":258},{"x":-28.6,"v":262},{"x":-28.3,"v":264},{"x":-28,"v":273},{"x":-27.5,"v":256},{"x":-27.1,"v":261},{"x":-26.8,"v":256},{"x":-26.4,"v":252},{"x":-26,"v":258},{"x":-25.7,"v":256},{"x":-25.3,"v":251},{"x":-24.9,"v":246},{"x":-24.6,"v":250},{"x":-24.3,"v":258},{"x":-24,"v":259},{"x":-23.7,"v":260},{"x":-23.2,"v":247},{"x":-22.9,"v":248},{"x":-22.6,"v":259},{"x":-22.1,"v":259},{"x":-21.7,"v":248},{"x":-21.4,"v":245},{"x":-20.9,"v":255},{"x":-20.5,"v":263},{"x":-20.1,"v":262},{"x":-19.7,"v":260},{"x":-19.5,"v":259},{"x":-19,"v":259},{"x":-18.8,"v":262},{"x":-18.5,"v":246},{"x":-18.1,"v":246},{"x":-17.8,"v":259},{"x":-17.3,"v":259},{"x":-16.9,"v":250},{"x":-16.6,"v":233},{"x":-16.3,"v":242},{"x":-15.9,"v":243},{"x":-15.5,"v":250},{"x":-15.2,"v":253},{"x":-14.9,"v":257},{"x":-14.7,"v":259},{"x":-14.5,"v":252},{"x":-14.2,"v":248},{"x":-14,"v":223},{"x":-13.5,"v":221},{"x":-13.1,"v":219},{"x":-12.6,"v":213},{"x":-12.2,"v":202},{"x":-11.9,"v":192},{"x":-11.5,"v":181},{"x":-11.2,"v":178},{"x":-10.9,"v":181},{"x":-10.7,"v":169},{"x":-10.5,"v":153},{"x":-10.4,"v":164},{"x":-10.3,"v":178},{"x":-10.1,"v":178},{"x":-9.9,"v":160},{"x":-9.7,"v":154},{"x":-9.5,"v":164},{"x":-9.3,"v":152},{"x":-9.1,"v":162},{"x":-8.9,"v":145},{"x":-8.7,"v":166},{"x":-8.45,"v":150},{"x":-8.2,"v":169},{"x":-8,"v":145},{"x":-7.75,"v":166},{"x":-7.55,"v":145},{"x":-7.3,"v":171},{"x":-7.1,"v":152},{"x":-6.9,"v":181},{"x":-6.7,"v":150},{"x":-6.5,"v":190},{"x":-6.3,"v":157},{"x":-6.1,"v":185},{"x":-5.9,"v":188},{"x":-5.75,"v":152},{"x":-5.6,"v":184},{"x":-5.4,"v":147},{"x":-5.2,"v":178},{"x":-5,"v":150},{"x":-4.85,"v":162},{"x":-4.6,"v":133},{"x":-4.4,"v":166},{"x":-4.2,"v":143},{"x":-4,"v":157},{"x":-3.75,"v":166},{"x":-3.55,"v":133},{"x":-3.35,"v":152},{"x":-3.05,"v":114},{"x":-2.9,"v":147},{"x":-2.7,"v":133},{"x":-2.45,"v":143},{"x":-2.25,"v":119},{"x":-2.05,"v":140},{"x":-1.8,"v":128},{"x":-1.6,"v":128},{"x":-1.4,"v":123},{"x":-1.15,"v":133},{"x":-0.95,"v":119},{"x":-0.75,"v":123},{"x":-0.5,"v":131},{"x":-0.3,"v":123},{"x":-0.15,"v":95},{"x":0,"v":62}
],
"blu": [
{"x":-40,"v":249},{"x":-39.7,"v":262},{"x":-39.4,"v":271},{"x":-39.05,"v":273},{"x":-38.8,"v":272},{"x":-38.5,"v":262},{"x":-38.1,"v":250},{"x":-37.6,"v":250},{"x":-37.2,"v":252},{"x":-36.8,"v":253},{"x":-36.3,"v":258},{"x":-35.85,"v":270},{"x":-35.5,"v":264},{"x":-35.3,"v":238},{"x":-34.9,"v":208},{"x":-34.55,"v":207},{"x":-34.3,"v":197},{"x":-33.85,"v":190},{"x":-33.55,"v":178},{"x":-33.2,"v":188},{"x":-32.8,"v":195},{"x":-32.55,"v":183},{"x":-32.25,"v":169},{"x":-31.8,"v":169},{"x":-31.6,"v":152},{"x":-31.4,"v":140},{"x":-30.95,"v":153},{"x":-30.6,"v":147},{"x":-30.35,"v":137},{"x":-30,"v":150},{"x":-29.6,"v":143},{"x":-29.2,"v":134},{"x":-28.8,"v":143},{"x":-28.5,"v":128},{"x":-28.1,"v":138},{"x":-27.75,"v":131},{"x":-27.5,"v":132},{"x":-27.2,"v":145},{"x":-26.9,"v":146},{"x":-26.55,"v":127},{"x":-26.2,"v":139},{"x":-25.8,"v":140},{"x":-25.6,"v":135},{"x":-25.15,"v":140},{"x":-24.8,"v":138},{"x":-24.5,"v":134},{"x":-24.2,"v":140},{"x":-23.85,"v":134},{"x":-23.55,"v":143},{"x":-23.3,"v":134},{"x":-22.95,"v":129},{"x":-22.6,"v":143},{"x":-22.25,"v":145},{"x":-21.9,"v":135},{"x":-21.6,"v":140},{"x":-21.15,"v":121},{"x":-20.85,"v":145},{"x":-20.55,"v":146},{"x":-20.35,"v":131},{"x":-20.1,"v":150},{"x":-19.9,"v":150},{"x":-19.65,"v":140},{"x":-19.3,"v":131},{"x":-19,"v":133},{"x":-18.65,"v":138},{"x":-18.35,"v":138},{"x":-18,"v":143},{"x":-17.7,"v":133},{"x":-17.4,"v":138},{"x":-16.95,"v":137},{"x":-16.55,"v":124},{"x":-16.2,"v":135},{"x":-15.85,"v":133},{"x":-15.45,"v":138},{"x":-15.1,"v":137},{"x":-14.8,"v":131},{"x":-14.45,"v":138},{"x":-14.15,"v":135},{"x":-13.7,"v":133},{"x":-13.4,"v":140},{"x":-13.15,"v":131},{"x":-12.85,"v":135},{"x":-12.5,"v":145},{"x":-12.2,"v":137},{"x":-11.85,"v":138},{"x":-11.55,"v":135},{"x":-11.2,"v":129},{"x":-10.9,"v":135},{"x":-10.45,"v":140},{"x":-10.25,"v":133},{"x":-9.9,"v":136},{"x":-9.6,"v":140},{"x":-9.3,"v":121},{"x":-8.95,"v":143},{"x":-8.6,"v":135},{"x":-8.3,"v":145},{"x":-8,"v":138},{"x":-7.65,"v":133},{"x":-7.45,"v":128},{"x":-7.1,"v":143},{"x":-6.9,"v":147},{"x":-6.7,"v":147},{"x":-6.5,"v":97},{"x":-6.35,"v":152},{"x":-6.15,"v":162},{"x":-6,"v":145},{"x":-5.85,"v":190},{"x":-5.7,"v":143},{"x":-5.5,"v":171},{"x":-5.25,"v":145},{"x":-5.05,"v":152},{"x":-4.95,"v":166},{"x":-4.75,"v":123},{"x":-4.5,"v":133},{"x":-4.3,"v":166},{"x":-4.15,"v":152},{"x":-3.9,"v":138},{"x":-3.75,"v":128},{"x":-3.5,"v":69},{"x":-3.35,"v":133},{"x":-3.1,"v":152},{"x":-2.9,"v":128},{"x":-2.7,"v":138},{"x":-2.45,"v":147},{"x":-2.3,"v":169},{"x":-2.15,"v":133},{"x":-1.95,"v":109},{"x":-1.75,"v":133},{"x":-1.55,"v":138},{"x":-1.4,"v":143},{"x":-1.15,"v":138},{"x":-0.95,"v":147},{"x":-0.75,"v":143},{"x":-0.65,"v":140},{"x":-0.4,"v":109},{"x":-0.25,"v":81},{"x":-0.1,"v":59}
],
"notes": [
{"label":"Delayed Deceleration","x":-7.85,"v":323},
{"label":"Early Deceleration","x":-33.58,"v":85.5}
],
"arr": [
{"x":-12.84,"v":305,"x2":-14.15,"v2":253},
{"x":-28.69,"v":90,"x2":-27.92,"v2":127}
],
"tips": [
{"id":"d","x":-14.2,"v":252.1},
{"id":"e","x":-27.88,"v":128.6}
]
},
"vconcat": [
{
 "width": 617, "height": 204,
 "data": {"name": "alt"},
 "mark": {"type": "line", "color": "#ff0000", "opacity": 0.16, "strokeWidth": 1.5},
 "encoding": {
  "x": {"field": "x", "type": "quantitative", "scale": {"domain": [-40, 0], "nice": false, "zero": false},
        "axis": {"title": null, "labels": false, "labelPadding": 0, "minExtent": 0, "maxExtent": 0, "values": [-40,-39,-38,-37,-36,-35,-34,-33,-32,-31,-30,-29,-28,-27,-26,-25,-24,-23,-22,-21,-20,-19,-18,-17,-16,-15,-14,-13,-12,-11,-10,-9,-8,-7,-6,-5,-4,-3,-2,-1,0],
                 "gridDash": {"condition": {"test": "datum.value % 5 !== 0", "value": [3, 2]}, "value": []},
                 "gridColor": {"condition": {"test": "datum.value % 5 !== 0", "value": "#e0e0e0"}, "value": "#d2d2d2"}}},
  "y": {"field": "a", "type": "quantitative", "scale": {"domain": [0, 10000], "nice": false},
        "axis": {"title": "Altitude [ft]", "values": [0,500,1000,1500,2000,2500,3000,3500,4000,4500,5000,5500,6000,6500,7000,7500,8000,8500,9000,9500,10000],
                 "labelExpr": "datum.value % 2500 === 0 ? '' + datum.value : ''",
                 "gridDash": {"condition": {"test": "datum.value % 2500 !== 0", "value": [3, 2]}, "value": []},
                 "gridColor": {"condition": {"test": "datum.value % 2500 !== 0", "value": "#e0e0e0"}, "value": "#d2d2d2"}}},
  "detail": {"field": "t", "type": "nominal"}
 }
},
{
 "width": 617, "height": 210,
 "encoding": {
  "x": {"field": "x", "type": "quantitative", "scale": {"domain": [-40, 0], "nice": false, "zero": false},
        "axis": {"title": "Position [nmi]", "values": [-40,-39,-38,-37,-36,-35,-34,-33,-32,-31,-30,-29,-28,-27,-26,-25,-24,-23,-22,-21,-20,-19,-18,-17,-16,-15,-14,-13,-12,-11,-10,-9,-8,-7,-6,-5,-4,-3,-2,-1,0],
                 "labelExpr": "datum.value % 5 === 0 ? '' + datum.value : ''",
                 "gridDash": {"condition": {"test": "datum.value % 5 !== 0", "value": [3, 2]}, "value": []},
                 "gridColor": {"condition": {"test": "datum.value % 5 !== 0", "value": "#e0e0e0"}, "value": "#d2d2d2"}}},
  "y": {"field": "v", "type": "quantitative", "scale": {"domain": [50, 350], "nice": false, "zero": false},
        "axis": {"title": "Velocity [kts]", "values": [60,80,100,120,140,160,180,200,220,240,260,280,300,320,340],
                 "labelExpr": "datum.value % 100 === 0 ? '' + datum.value : ''",
                 "gridDash": {"condition": {"test": "datum.value % 100 !== 0", "value": [3, 2]}, "value": []},
                 "gridColor": {"condition": {"test": "datum.value % 100 !== 0", "value": "#e0e0e0"}, "value": "#d2d2d2"}}}
 },
 "layer": [
  {"data": {"name": "vel"}, "mark": {"type": "line", "color": "#ff0000", "opacity": 0.23, "strokeWidth": 0.9}, "encoding": {"detail": {"field": "t", "type": "nominal"}}},
  {"data": {"name": "blk"}, "mark": {"type": "line", "color": "#000000", "strokeWidth": 1.9}},
  {"data": {"name": "blu"}, "mark": {"type": "line", "color": "#0000ff", "strokeWidth": 1.9}},
  {"data": {"name": "arr"}, "mark": {"type": "rule", "color": "#444444", "strokeWidth": 0.8}, "encoding": {"x2": {"field": "x2"}, "y2": {"field": "v2"}}},
  {"data": {"name": "tips"}, "transform": [{"filter": "datum.id === 'd'"}], "mark": {"type": "point", "shape": "M0,0L-0.6,2.2L0.6,2.2Z", "filled": true, "color": "#333333", "opacity": 1, "size": 36, "angle": 210}},
  {"data": {"name": "tips"}, "transform": [{"filter": "datum.id === 'e'"}], "mark": {"type": "point", "shape": "M0,0L-0.6,2.2L0.6,2.2Z", "filled": true, "color": "#333333", "opacity": 1, "size": 36, "angle": 25}},
  {"data": {"name": "notes"}, "mark": {"type": "text", "font": "Times New Roman", "fontSize": 17, "color": "#111111", "align": "center", "baseline": "middle"}, "encoding": {"text": {"field": "label"}}}
 ]
}
]
}
